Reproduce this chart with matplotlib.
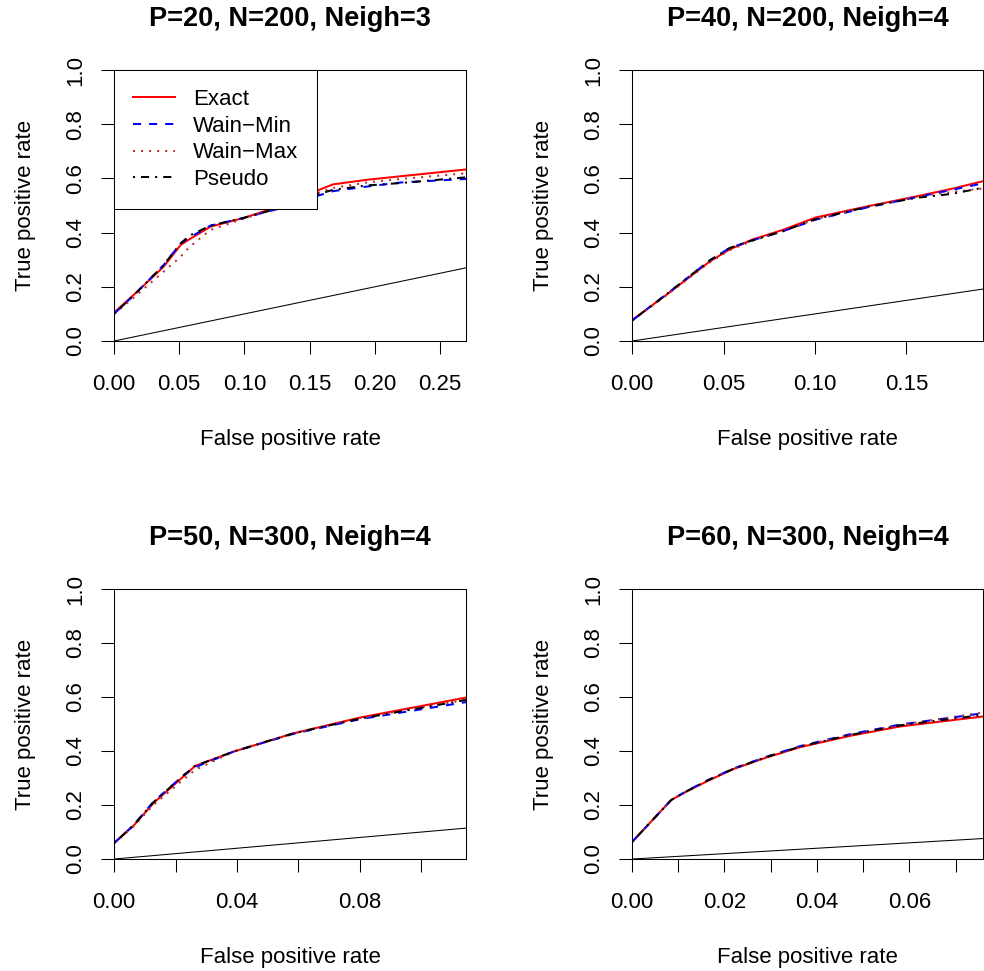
import matplotlib
matplotlib.use("Agg")
import matplotlib.pyplot as plt

plt.rcParams['font.family'] = ['Liberation Sans', 'DejaVu Sans']

# ---------------- data ----------------
titles = ["P=20, N=200, Neigh=3", "P=40, N=200, Neigh=4",
          "P=50, N=300, Neigh=4", "P=60, N=300, Neigh=4"]
methods = ["Exact", "Wain\u2212Min", "Wain\u2212Max", "Pseudo"]

fpr1 = [0, 0.015, 0.038, 0.051, 0.058, 0.074, 0.10, 0.128, 0.143, 0.152, 0.168, 0.194, 0.22, 0.27]
exact1 = [0.105, 0.170, 0.274, 0.354, 0.376, 0.422, 0.455, 0.499, 0.535, 0.548, 0.578, 0.595, 0.608, 0.633]
wmin1 = [0.100, 0.168, 0.280, 0.360, 0.382, 0.426, 0.455, 0.490, 0.515, 0.530, 0.553, 0.570, 0.585, 0.598]
wmax1 = [0.100, 0.160, 0.256, 0.311, 0.348, 0.410, 0.452, 0.495, 0.525, 0.540, 0.565, 0.585, 0.598, 0.619]
pseudo1 = [0.100, 0.168, 0.280, 0.360, 0.389, 0.426, 0.455, 0.492, 0.520, 0.535, 0.558, 0.574, 0.583, 0.604]

fpr2 = [0, 0.0187, 0.0424, 0.0533, 0.066, 0.0824, 0.1005, 0.128, 0.155, 0.175, 0.192]
exact2 = [0.0775, 0.170, 0.293, 0.338, 0.375, 0.410, 0.456, 0.496, 0.533, 0.562, 0.590]
wmin2 = [0.075, 0.172, 0.297, 0.343, 0.372, 0.405, 0.448, 0.492, 0.530, 0.558, 0.582]
wmax2 = [0.075, 0.168, 0.290, 0.335, 0.370, 0.405, 0.450, 0.495, 0.532, 0.550, 0.563]
pseudo2 = [0.075, 0.172, 0.297, 0.343, 0.372, 0.405, 0.450, 0.494, 0.528, 0.543, 0.566]

fpr3 = [0, 0.0063, 0.0128, 0.0226, 0.0264, 0.0389, 0.0585, 0.080, 0.1145]
exact3 = [0.059, 0.123, 0.207, 0.306, 0.345, 0.398, 0.466, 0.524, 0.598]
wmin3 = [0.059, 0.125, 0.212, 0.310, 0.340, 0.398, 0.464, 0.518, 0.581]
wmax3 = [0.059, 0.120, 0.200, 0.295, 0.330, 0.398, 0.465, 0.522, 0.590]
pseudo3 = [0.059, 0.125, 0.210, 0.310, 0.345, 0.398, 0.466, 0.520, 0.589]

fpr4 = [0, 0.0085, 0.0118, 0.0161, 0.0219, 0.0291, 0.0363, 0.0471, 0.058, 0.076]
exact4 = [0.063, 0.219, 0.250, 0.287, 0.333, 0.376, 0.414, 0.456, 0.491, 0.528]
wmin4 = [0.063, 0.219, 0.252, 0.290, 0.335, 0.379, 0.418, 0.462, 0.498, 0.540]
wmax4 = [0.063, 0.219, 0.250, 0.288, 0.334, 0.378, 0.417, 0.460, 0.497, 0.543]
pseudo4 = [0.063, 0.219, 0.251, 0.289, 0.334, 0.378, 0.416, 0.459, 0.495, 0.534]

xmax = [0.27, 0.192, 0.1145, 0.076]
xticks = [[0, 0.05, 0.10, 0.15, 0.20, 0.25],
          [0, 0.05, 0.10, 0.15],
          [0, 0.02, 0.04, 0.06, 0.08, 0.10],
          [0, 0.01, 0.02, 0.03, 0.04, 0.05, 0.06, 0.07]]
xlabels = [["0.00", "0.05", "0.10", "0.15", "0.20", "0.25"],
           ["0.00", "0.05", "0.10", "0.15"],
           ["0.00", "", "0.04", "", "0.08", ""],
           ["0.00", "", "0.02", "", "0.04", "", "0.06", ""]]
yticks = [0, 0.2, 0.4, 0.6, 0.8, 1.0]
ylabels = ["0.0", "0.2", "0.4", "0.6", "0.8", "1.0"]

panels = [(fpr1, [exact1, wmin1, wmax1, pseudo1]),
          (fpr2, [exact2, wmin2, wmax2, pseudo2]),
          (fpr3, [exact3, wmin3, wmax3, pseudo3]),
          (fpr4, [exact4, wmin4, wmax4, pseudo4])]

# R-like line styles (lwd=2)
lw = 1.45
styles = [dict(color="#FF0000", linestyle="-"),
          dict(color="#0000FF", dashes=(4, 4)),
          dict(color="#B8302C", dashes=(1, 3)),
          dict(color="black", dashes=(1, 3, 4, 3))]

# ---------------- figure ----------------
fig = plt.figure(figsize=(9.84, 9.71), dpi=100)
positions = [[0.1159, 0.6488, 0.3577, 0.2791],
             [0.6423, 0.6488, 0.3570, 0.2791],
             [0.1159, 0.1153, 0.3577, 0.2781],
             [0.6423, 0.1153, 0.3570, 0.2781]]

fs = 16
for k in range(4):
    ax = fig.add_axes(positions[k])
    fpr, curves = panels[k]
    lines = []
    for m in range(4):
        ln, = ax.plot(fpr, curves[m], lw=lw, label=methods[m], **styles[m])
        lines.append(ln)
    ax.plot([0, xmax[k]], [0, xmax[k]], color="black", lw=0.75)

    ax.set_xlim(0, xmax[k])
    ax.set_ylim(0, 1)
    ax.set_xticks(xticks[k])
    ax.set_xticklabels(xlabels[k])
    ax.set_yticks(yticks)
    ax.set_yticklabels(ylabels, rotation=90, va="center")
    ax.tick_params(direction="out", length=9.5, width=0.75, labelsize=fs)
    ax.tick_params(axis="x", pad=14)
    ax.tick_params(axis="y", pad=10.5)
    for s in ax.spines.values():
        s.set_linewidth(0.75)
    ax.set_xlabel("False positive rate", fontsize=fs, labelpad=25)
    ax.set_ylabel("True positive rate", fontsize=fs, labelpad=21)
    ax.set_title(titles[k], fontsize=19.5, fontweight="bold", pad=32)

    if k == 0:
        leg = ax.legend(handles=lines, loc="upper left", fontsize=fs,
                        borderaxespad=0, fancybox=False, framealpha=1,
                        edgecolor="black", handlelength=1.9,
                        handletextpad=0.8, labelspacing=0.26,
                        borderpad=0.85)
        leg.get_frame().set_linewidth(0.75)

fig.savefig("out.png", dpi=100)
